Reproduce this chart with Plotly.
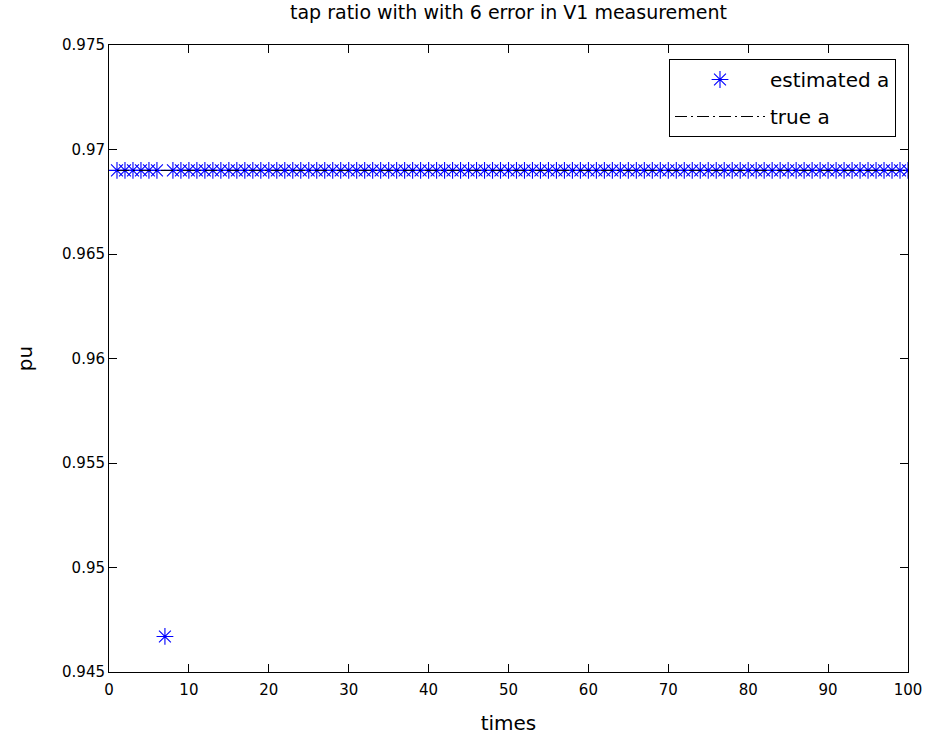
import plotly.graph_objects as go

times = list(range(1, 101))
estimated_a = [0.969] * 100
estimated_a[6] = 0.9467  # outlier at time 7
true_a = [0.969] * 100

x_ticks = [0, 10, 20, 30, 40, 50, 60, 70, 80, 90, 100]
y_ticks = [0.945, 0.95, 0.955, 0.96, 0.965, 0.97, 0.975]
y_tick_labels = ["0.945", "0.95", "0.955", "0.96", "0.965", "0.97", "0.975"]

font_family = "DejaVu Sans, Verdana, sans-serif"

fig = go.Figure()
fig.add_trace(go.Scatter(
    x=times, y=estimated_a, mode="markers", name="estimated a",
    legendgroup="est",
    marker=dict(symbol="asterisk-open", size=14, color="#0000ff",
                line=dict(color="#0000ff", width=1.1)),
))
fig.add_trace(go.Scatter(
    x=times, y=true_a, mode="lines", name="true a",
    legendgroup="true",
    line=dict(color="black", width=1, dash="12px,4px,2px,4px"),
))

axis_common = dict(
    showline=True, linecolor="black", linewidth=1, mirror="ticks",
    ticks="inside", ticklen=8, tickcolor="black", tickwidth=1,
    showgrid=False, zeroline=False, automargin=False,
    tickfont=dict(family=font_family, size=15, color="black"),
)

fig.update_layout(
    width=931, height=740,
    margin=dict(l=109, r=23, t=45, b=68),
    paper_bgcolor="white", plot_bgcolor="white",
    font=dict(family=font_family, size=15, color="black"),
    title=dict(text="tap ratio with with 6 error in V1 measurement",
               x=0.5, xref="paper", xanchor="center",
               y=1.0, yanchor="top", yref="container", pad=dict(t=6),
               font=dict(family=font_family, size=19, color="black")),
    xaxis=dict(range=[0, 100], tickvals=x_ticks, ticklabelstandoff=4,
               title=dict(text="times", standoff=17,
                          font=dict(family=font_family, size=20)),
               **axis_common),
    yaxis=dict(range=[0.945, 0.975], tickvals=y_ticks, ticktext=y_tick_labels,
               title=dict(text="pu", standoff=24,
                          font=dict(family=font_family, size=20)),
               **axis_common),
    legend=dict(x=(896 - 109) / 799, y=(672 - 59) / 627, xanchor="right", yanchor="top",
                bgcolor="white", bordercolor="black", borderwidth=1,
                itemwidth=90, tracegroupgap=8,
                font=dict(family=font_family, size=20)),
    showlegend=True,
)

fig.write_html("out.html",
               config={"displayModeBar": False},
               post_script="document.body.style.margin='0';document.body.style.overflow='hidden';")
